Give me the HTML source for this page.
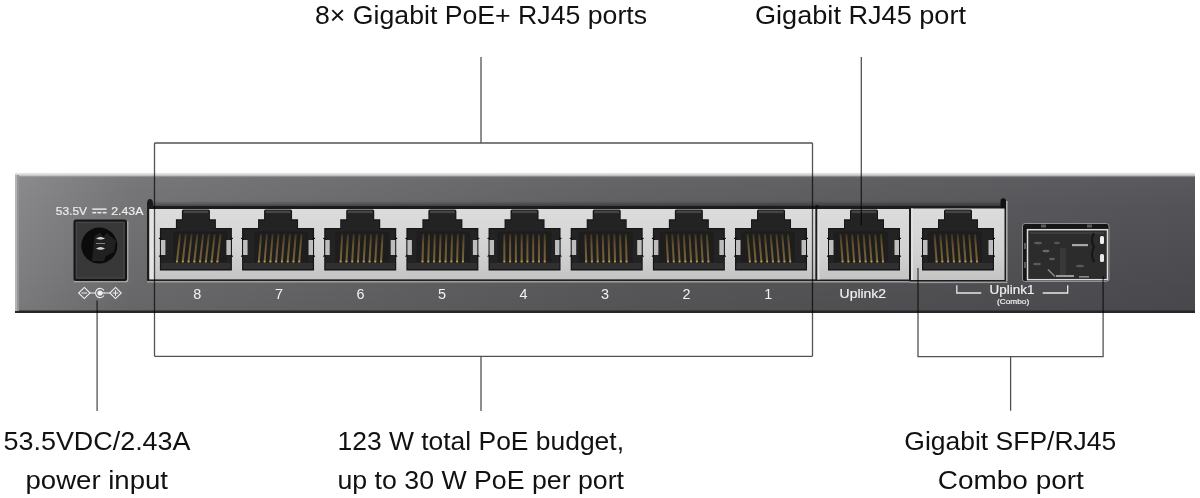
<!DOCTYPE html>
<html><head><meta charset="utf-8">
<style>
html,body{margin:0;padding:0;background:#fff;}
body{width:1200px;height:498px;overflow:hidden;position:relative;}
svg{position:absolute;left:0;top:0;display:block;will-change:transform;}
text{font-family:"Liberation Sans",sans-serif;}
</style></head><body>
<svg width="1200" height="498" viewBox="0 0 1200 498">
<defs>
  <linearGradient id="bodyH" x1="0" x2="1" y1="0" y2="0">
    <stop offset="0" stop-color="#838385"/>
    <stop offset="0.1" stop-color="#6e6e70"/>
    <stop offset="0.5" stop-color="#5b5b5e"/>
    <stop offset="1" stop-color="#4e4e52"/>
  </linearGradient>
  <linearGradient id="bodyV" x1="0" x2="0" y1="0" y2="1">
    <stop offset="0" stop-color="#fff" stop-opacity="0.07"/>
    <stop offset="0.25" stop-color="#fff" stop-opacity="0.03"/>
    <stop offset="0.7" stop-color="#000" stop-opacity="0.03"/>
    <stop offset="1" stop-color="#000" stop-opacity="0.08"/>
  </linearGradient>
  <linearGradient id="topHi" x1="0" x2="0" y1="0" y2="1">
    <stop offset="0" stop-color="#ececec"/>
    <stop offset="0.5" stop-color="#d6d6d6" stop-opacity="0.9"/>
    <stop offset="1" stop-color="#8a8a8a" stop-opacity="0"/>
  </linearGradient>
  <linearGradient id="shadowTop" x1="0" x2="0" y1="0" y2="1">
    <stop offset="0" stop-color="#000" stop-opacity="0"/>
    <stop offset="1" stop-color="#000" stop-opacity="0.45"/>
  </linearGradient>
  <linearGradient id="pinG" gradientUnits="userSpaceOnUse" x1="0" x2="0" y1="234" y2="262">
    <stop offset="0" stop-color="#3e3220"/>
    <stop offset="0.35" stop-color="#63512f"/>
    <stop offset="1" stop-color="#7a6538"/>
  </linearGradient>
  <linearGradient id="silver" x1="0" x2="0" y1="0" y2="1">
    <stop offset="0" stop-color="#dcdcdc"/>
    <stop offset="0.6" stop-color="#d2d2d2"/>
    <stop offset="1" stop-color="#c4c4c4"/>
  </linearGradient>
  </defs>
<rect width="1200" height="498" fill="#fff"/>
<!-- body -->
<path d="M15 174Q15 173 16 173H1195V313H19Q15 313 15 309Z" fill="url(#bodyH)"/>
<rect x="15" y="173" width="1180" height="140" fill="url(#bodyV)"/>
<rect x="15" y="172.8" width="1180" height="5" fill="url(#topHi)"/>
<rect x="15" y="310.5" width="1180" height="2.5" fill="#262626"/>
<rect x="15" y="175" width="2" height="136" fill="#b4b4b4"/>
<rect x="17" y="175" width="2" height="136" fill="#949494"/>

<!-- 8 port panel -->
<rect x="147" y="201" width="669" height="6" fill="url(#shadowTop)"/>
<path d="M147 204Q147 199 150 199Q153 199 153 204V207H147Z" fill="#1a1a1a"/>
<rect x="147" y="206" width="669" height="3" fill="#1c1c1c"/>
<rect x="147" y="206" width="2.5" height="76" fill="#1c1c1c"/>
<rect x="149.5" y="209" width="666" height="70.5" fill="url(#silver)"/>
<rect x="149.5" y="209" width="4.5" height="70.5" fill="#e4e4e4"/>
<rect x="147" y="279.5" width="669" height="1.5" fill="#222"/>
<rect x="147" y="281" width="669" height="1.6" fill="#9a9a9a"/>
<g transform="translate(195.90,0)"><path d="M-14 211Q-14 209.5 -12.5 209.5H12.5Q14 209.5 14 211V219.3H20V228H36V270.5H-36V228H-20V219.3H-14Z" fill="#151515"/><path d="M-13 212V220.5H-19V229.3H-34.8V262H34.8V229.3H19V220.5H13V212Z" fill="#232323"/><rect x="-12.5" y="210.5" width="25" height="2.6" fill="#454545"/><rect x="-22.72" y="231.5" width="54" height="30.5" fill="#1d1d1d"/><rect x="-34.8" y="262" width="69.6" height="7" fill="#303030"/><rect x="-34.8" y="262" width="69.6" height="1" fill="#222"/><g stroke="url(#pinG)" stroke-width="2" stroke-linecap="round"><line x1="-15.92" y1="235" x2="-18.90" y2="261.5"/><line x1="-10.15" y1="235" x2="-13.13" y2="261.5"/><line x1="-4.38" y1="235" x2="-7.36" y2="261.5"/><line x1="1.39" y1="235" x2="-1.59" y2="261.5"/><line x1="7.16" y1="235" x2="4.18" y2="261.5"/><line x1="12.93" y1="235" x2="9.95" y2="261.5"/><line x1="18.70" y1="235" x2="15.72" y2="261.5"/><line x1="24.47" y1="235" x2="21.49" y2="261.5"/></g><g fill="#b39858"><circle cx="-18.90" cy="261.5" r="1.1"/><circle cx="-13.13" cy="261.5" r="1.1"/><circle cx="-7.36" cy="261.5" r="1.1"/><circle cx="-1.59" cy="261.5" r="1.1"/><circle cx="4.18" cy="261.5" r="1.1"/><circle cx="9.95" cy="261.5" r="1.1"/><circle cx="15.72" cy="261.5" r="1.1"/><circle cx="21.49" cy="261.5" r="1.1"/></g><path d="M-37 238.5Q-35 238 -35 239.5V254Q-35 256 -37 256.5" fill="none" stroke="#0c0c0c" stroke-width="1.2"/><rect x="-35" y="240" width="4.5" height="15" fill="#bdbdbd"/><path d="M37 238.5Q35 238 35 239.5V254Q35 256 37 256.5" fill="none" stroke="#0c0c0c" stroke-width="1.2"/><rect x="30.5" y="240" width="4.5" height="15" fill="#bdbdbd"/></g><g transform="translate(278.06,0)"><path d="M-14 211Q-14 209.5 -12.5 209.5H12.5Q14 209.5 14 211V219.3H20V228H36V270.5H-36V228H-20V219.3H-14Z" fill="#151515"/><path d="M-13 212V220.5H-19V229.3H-34.8V262H34.8V229.3H19V220.5H13V212Z" fill="#232323"/><rect x="-12.5" y="210.5" width="25" height="2.6" fill="#454545"/><rect x="-23.79" y="231.5" width="54" height="30.5" fill="#1d1d1d"/><rect x="-34.8" y="262" width="69.6" height="7" fill="#303030"/><rect x="-34.8" y="262" width="69.6" height="1" fill="#222"/><g stroke="url(#pinG)" stroke-width="2" stroke-linecap="round"><line x1="-16.99" y1="235" x2="-19.21" y2="261.5"/><line x1="-11.22" y1="235" x2="-13.44" y2="261.5"/><line x1="-5.45" y1="235" x2="-7.67" y2="261.5"/><line x1="0.32" y1="235" x2="-1.90" y2="261.5"/><line x1="6.09" y1="235" x2="3.87" y2="261.5"/><line x1="11.86" y1="235" x2="9.64" y2="261.5"/><line x1="17.63" y1="235" x2="15.41" y2="261.5"/><line x1="23.40" y1="235" x2="21.18" y2="261.5"/></g><g fill="#b39858"><circle cx="-19.21" cy="261.5" r="1.1"/><circle cx="-13.44" cy="261.5" r="1.1"/><circle cx="-7.67" cy="261.5" r="1.1"/><circle cx="-1.90" cy="261.5" r="1.1"/><circle cx="3.87" cy="261.5" r="1.1"/><circle cx="9.64" cy="261.5" r="1.1"/><circle cx="15.41" cy="261.5" r="1.1"/><circle cx="21.18" cy="261.5" r="1.1"/></g><path d="M-37 238.5Q-35 238 -35 239.5V254Q-35 256 -37 256.5" fill="none" stroke="#0c0c0c" stroke-width="1.2"/><rect x="-35" y="240" width="4.5" height="15" fill="#bdbdbd"/><path d="M37 238.5Q35 238 35 239.5V254Q35 256 37 256.5" fill="none" stroke="#0c0c0c" stroke-width="1.2"/><rect x="30.5" y="240" width="4.5" height="15" fill="#bdbdbd"/></g><g transform="translate(360.22,0)"><path d="M-14 211Q-14 209.5 -12.5 209.5H12.5Q14 209.5 14 211V219.3H20V228H36V270.5H-36V228H-20V219.3H-14Z" fill="#151515"/><path d="M-13 212V220.5H-19V229.3H-34.8V262H34.8V229.3H19V220.5H13V212Z" fill="#232323"/><rect x="-12.5" y="210.5" width="25" height="2.6" fill="#454545"/><rect x="-24.86" y="231.5" width="54" height="30.5" fill="#1d1d1d"/><rect x="-34.8" y="262" width="69.6" height="7" fill="#303030"/><rect x="-34.8" y="262" width="69.6" height="1" fill="#222"/><g stroke="url(#pinG)" stroke-width="2" stroke-linecap="round"><line x1="-18.06" y1="235" x2="-19.54" y2="261.5"/><line x1="-12.29" y1="235" x2="-13.77" y2="261.5"/><line x1="-6.52" y1="235" x2="-8.00" y2="261.5"/><line x1="-0.75" y1="235" x2="-2.23" y2="261.5"/><line x1="5.02" y1="235" x2="3.54" y2="261.5"/><line x1="10.79" y1="235" x2="9.31" y2="261.5"/><line x1="16.56" y1="235" x2="15.08" y2="261.5"/><line x1="22.33" y1="235" x2="20.85" y2="261.5"/></g><g fill="#b39858"><circle cx="-19.54" cy="261.5" r="1.1"/><circle cx="-13.77" cy="261.5" r="1.1"/><circle cx="-8.00" cy="261.5" r="1.1"/><circle cx="-2.23" cy="261.5" r="1.1"/><circle cx="3.54" cy="261.5" r="1.1"/><circle cx="9.31" cy="261.5" r="1.1"/><circle cx="15.08" cy="261.5" r="1.1"/><circle cx="20.85" cy="261.5" r="1.1"/></g><path d="M-37 238.5Q-35 238 -35 239.5V254Q-35 256 -37 256.5" fill="none" stroke="#0c0c0c" stroke-width="1.2"/><rect x="-35" y="240" width="4.5" height="15" fill="#bdbdbd"/><path d="M37 238.5Q35 238 35 239.5V254Q35 256 37 256.5" fill="none" stroke="#0c0c0c" stroke-width="1.2"/><rect x="30.5" y="240" width="4.5" height="15" fill="#bdbdbd"/></g><g transform="translate(442.38,0)"><path d="M-14 211Q-14 209.5 -12.5 209.5H12.5Q14 209.5 14 211V219.3H20V228H36V270.5H-36V228H-20V219.3H-14Z" fill="#151515"/><path d="M-13 212V220.5H-19V229.3H-34.8V262H34.8V229.3H19V220.5H13V212Z" fill="#232323"/><rect x="-12.5" y="210.5" width="25" height="2.6" fill="#454545"/><rect x="-25.93" y="231.5" width="54" height="30.5" fill="#1d1d1d"/><rect x="-34.8" y="262" width="69.6" height="7" fill="#303030"/><rect x="-34.8" y="262" width="69.6" height="1" fill="#222"/><g stroke="url(#pinG)" stroke-width="2" stroke-linecap="round"><line x1="-19.13" y1="235" x2="-19.87" y2="261.5"/><line x1="-13.36" y1="235" x2="-14.10" y2="261.5"/><line x1="-7.59" y1="235" x2="-8.33" y2="261.5"/><line x1="-1.82" y1="235" x2="-2.56" y2="261.5"/><line x1="3.95" y1="235" x2="3.21" y2="261.5"/><line x1="9.72" y1="235" x2="8.98" y2="261.5"/><line x1="15.49" y1="235" x2="14.75" y2="261.5"/><line x1="21.26" y1="235" x2="20.52" y2="261.5"/></g><g fill="#b39858"><circle cx="-19.87" cy="261.5" r="1.1"/><circle cx="-14.10" cy="261.5" r="1.1"/><circle cx="-8.33" cy="261.5" r="1.1"/><circle cx="-2.56" cy="261.5" r="1.1"/><circle cx="3.21" cy="261.5" r="1.1"/><circle cx="8.98" cy="261.5" r="1.1"/><circle cx="14.75" cy="261.5" r="1.1"/><circle cx="20.52" cy="261.5" r="1.1"/></g><path d="M-37 238.5Q-35 238 -35 239.5V254Q-35 256 -37 256.5" fill="none" stroke="#0c0c0c" stroke-width="1.2"/><rect x="-35" y="240" width="4.5" height="15" fill="#bdbdbd"/><path d="M37 238.5Q35 238 35 239.5V254Q35 256 37 256.5" fill="none" stroke="#0c0c0c" stroke-width="1.2"/><rect x="30.5" y="240" width="4.5" height="15" fill="#bdbdbd"/></g><g transform="translate(524.54,0)"><path d="M-14 211Q-14 209.5 -12.5 209.5H12.5Q14 209.5 14 211V219.3H20V228H36V270.5H-36V228H-20V219.3H-14Z" fill="#151515"/><path d="M-13 212V220.5H-19V229.3H-34.8V262H34.8V229.3H19V220.5H13V212Z" fill="#232323"/><rect x="-12.5" y="210.5" width="25" height="2.6" fill="#454545"/><rect x="-26.99" y="231.5" width="54" height="30.5" fill="#1d1d1d"/><rect x="-34.8" y="262" width="69.6" height="7" fill="#303030"/><rect x="-34.8" y="262" width="69.6" height="1" fill="#222"/><g stroke="url(#pinG)" stroke-width="2" stroke-linecap="round"><line x1="-20.19" y1="235" x2="-20.20" y2="261.5"/><line x1="-14.42" y1="235" x2="-14.43" y2="261.5"/><line x1="-8.65" y1="235" x2="-8.66" y2="261.5"/><line x1="-2.88" y1="235" x2="-2.89" y2="261.5"/><line x1="2.89" y1="235" x2="2.88" y2="261.5"/><line x1="8.66" y1="235" x2="8.65" y2="261.5"/><line x1="14.43" y1="235" x2="14.42" y2="261.5"/><line x1="20.20" y1="235" x2="20.19" y2="261.5"/></g><g fill="#b39858"><circle cx="-20.20" cy="261.5" r="1.1"/><circle cx="-14.43" cy="261.5" r="1.1"/><circle cx="-8.66" cy="261.5" r="1.1"/><circle cx="-2.89" cy="261.5" r="1.1"/><circle cx="2.88" cy="261.5" r="1.1"/><circle cx="8.65" cy="261.5" r="1.1"/><circle cx="14.42" cy="261.5" r="1.1"/><circle cx="20.19" cy="261.5" r="1.1"/></g><path d="M-37 238.5Q-35 238 -35 239.5V254Q-35 256 -37 256.5" fill="none" stroke="#0c0c0c" stroke-width="1.2"/><rect x="-35" y="240" width="4.5" height="15" fill="#bdbdbd"/><path d="M37 238.5Q35 238 35 239.5V254Q35 256 37 256.5" fill="none" stroke="#0c0c0c" stroke-width="1.2"/><rect x="30.5" y="240" width="4.5" height="15" fill="#bdbdbd"/></g><g transform="translate(606.70,0)"><path d="M-14 211Q-14 209.5 -12.5 209.5H12.5Q14 209.5 14 211V219.3H20V228H36V270.5H-36V228H-20V219.3H-14Z" fill="#151515"/><path d="M-13 212V220.5H-19V229.3H-34.8V262H34.8V229.3H19V220.5H13V212Z" fill="#232323"/><rect x="-12.5" y="210.5" width="25" height="2.6" fill="#454545"/><rect x="-28.06" y="231.5" width="54" height="30.5" fill="#1d1d1d"/><rect x="-34.8" y="262" width="69.6" height="7" fill="#303030"/><rect x="-34.8" y="262" width="69.6" height="1" fill="#222"/><g stroke="url(#pinG)" stroke-width="2" stroke-linecap="round"><line x1="-21.26" y1="235" x2="-20.53" y2="261.5"/><line x1="-15.49" y1="235" x2="-14.76" y2="261.5"/><line x1="-9.72" y1="235" x2="-8.99" y2="261.5"/><line x1="-3.95" y1="235" x2="-3.22" y2="261.5"/><line x1="1.82" y1="235" x2="2.55" y2="261.5"/><line x1="7.59" y1="235" x2="8.32" y2="261.5"/><line x1="13.36" y1="235" x2="14.09" y2="261.5"/><line x1="19.13" y1="235" x2="19.86" y2="261.5"/></g><g fill="#b39858"><circle cx="-20.53" cy="261.5" r="1.1"/><circle cx="-14.76" cy="261.5" r="1.1"/><circle cx="-8.99" cy="261.5" r="1.1"/><circle cx="-3.22" cy="261.5" r="1.1"/><circle cx="2.55" cy="261.5" r="1.1"/><circle cx="8.32" cy="261.5" r="1.1"/><circle cx="14.09" cy="261.5" r="1.1"/><circle cx="19.86" cy="261.5" r="1.1"/></g><path d="M-37 238.5Q-35 238 -35 239.5V254Q-35 256 -37 256.5" fill="none" stroke="#0c0c0c" stroke-width="1.2"/><rect x="-35" y="240" width="4.5" height="15" fill="#bdbdbd"/><path d="M37 238.5Q35 238 35 239.5V254Q35 256 37 256.5" fill="none" stroke="#0c0c0c" stroke-width="1.2"/><rect x="30.5" y="240" width="4.5" height="15" fill="#bdbdbd"/></g><g transform="translate(688.86,0)"><path d="M-14 211Q-14 209.5 -12.5 209.5H12.5Q14 209.5 14 211V219.3H20V228H36V270.5H-36V228H-20V219.3H-14Z" fill="#151515"/><path d="M-13 212V220.5H-19V229.3H-34.8V262H34.8V229.3H19V220.5H13V212Z" fill="#232323"/><rect x="-12.5" y="210.5" width="25" height="2.6" fill="#454545"/><rect x="-29.13" y="231.5" width="54" height="30.5" fill="#1d1d1d"/><rect x="-34.8" y="262" width="69.6" height="7" fill="#303030"/><rect x="-34.8" y="262" width="69.6" height="1" fill="#222"/><g stroke="url(#pinG)" stroke-width="2" stroke-linecap="round"><line x1="-22.33" y1="235" x2="-20.86" y2="261.5"/><line x1="-16.56" y1="235" x2="-15.09" y2="261.5"/><line x1="-10.79" y1="235" x2="-9.32" y2="261.5"/><line x1="-5.02" y1="235" x2="-3.55" y2="261.5"/><line x1="0.75" y1="235" x2="2.22" y2="261.5"/><line x1="6.52" y1="235" x2="7.99" y2="261.5"/><line x1="12.29" y1="235" x2="13.76" y2="261.5"/><line x1="18.06" y1="235" x2="19.53" y2="261.5"/></g><g fill="#b39858"><circle cx="-20.86" cy="261.5" r="1.1"/><circle cx="-15.09" cy="261.5" r="1.1"/><circle cx="-9.32" cy="261.5" r="1.1"/><circle cx="-3.55" cy="261.5" r="1.1"/><circle cx="2.22" cy="261.5" r="1.1"/><circle cx="7.99" cy="261.5" r="1.1"/><circle cx="13.76" cy="261.5" r="1.1"/><circle cx="19.53" cy="261.5" r="1.1"/></g><path d="M-37 238.5Q-35 238 -35 239.5V254Q-35 256 -37 256.5" fill="none" stroke="#0c0c0c" stroke-width="1.2"/><rect x="-35" y="240" width="4.5" height="15" fill="#bdbdbd"/><path d="M37 238.5Q35 238 35 239.5V254Q35 256 37 256.5" fill="none" stroke="#0c0c0c" stroke-width="1.2"/><rect x="30.5" y="240" width="4.5" height="15" fill="#bdbdbd"/></g><g transform="translate(771.02,0)"><path d="M-14 211Q-14 209.5 -12.5 209.5H12.5Q14 209.5 14 211V219.3H20V228H36V270.5H-36V228H-20V219.3H-14Z" fill="#151515"/><path d="M-13 212V220.5H-19V229.3H-34.8V262H34.8V229.3H19V220.5H13V212Z" fill="#232323"/><rect x="-12.5" y="210.5" width="25" height="2.6" fill="#454545"/><rect x="-30.20" y="231.5" width="54" height="30.5" fill="#1d1d1d"/><rect x="-34.8" y="262" width="69.6" height="7" fill="#303030"/><rect x="-34.8" y="262" width="69.6" height="1" fill="#222"/><g stroke="url(#pinG)" stroke-width="2" stroke-linecap="round"><line x1="-23.40" y1="235" x2="-21.18" y2="261.5"/><line x1="-17.63" y1="235" x2="-15.41" y2="261.5"/><line x1="-11.86" y1="235" x2="-9.64" y2="261.5"/><line x1="-6.09" y1="235" x2="-3.87" y2="261.5"/><line x1="-0.32" y1="235" x2="1.90" y2="261.5"/><line x1="5.45" y1="235" x2="7.67" y2="261.5"/><line x1="11.22" y1="235" x2="13.44" y2="261.5"/><line x1="16.99" y1="235" x2="19.21" y2="261.5"/></g><g fill="#b39858"><circle cx="-21.18" cy="261.5" r="1.1"/><circle cx="-15.41" cy="261.5" r="1.1"/><circle cx="-9.64" cy="261.5" r="1.1"/><circle cx="-3.87" cy="261.5" r="1.1"/><circle cx="1.90" cy="261.5" r="1.1"/><circle cx="7.67" cy="261.5" r="1.1"/><circle cx="13.44" cy="261.5" r="1.1"/><circle cx="19.21" cy="261.5" r="1.1"/></g><path d="M-37 238.5Q-35 238 -35 239.5V254Q-35 256 -37 256.5" fill="none" stroke="#0c0c0c" stroke-width="1.2"/><rect x="-35" y="240" width="4.5" height="15" fill="#bdbdbd"/><path d="M37 238.5Q35 238 35 239.5V254Q35 256 37 256.5" fill="none" stroke="#0c0c0c" stroke-width="1.2"/><rect x="30.5" y="240" width="4.5" height="15" fill="#bdbdbd"/></g>

<!-- uplink2 panel -->
<rect x="816" y="201" width="95" height="6" fill="url(#shadowTop)"/>
<rect x="815.5" y="206" width="95" height="75" fill="#1c1c1c"/>
<circle cx="817" cy="207" r="2" fill="#111"/>
<rect x="817.5" y="209" width="91.5" height="70.5" fill="url(#silver)"/>
<rect x="817.5" y="209" width="2" height="70.5" fill="#e0e0e0"/>
<rect x="816" y="281" width="94" height="1.6" fill="#9a9a9a"/>
<g transform="translate(864.00,0)"><path d="M-14 211Q-14 209.5 -12.5 209.5H12.5Q14 209.5 14 211V219.3H20V228H36V270.5H-36V228H-20V219.3H-14Z" fill="#151515"/><path d="M-13 212V220.5H-19V229.3H-34.8V262H34.8V229.3H19V220.5H13V212Z" fill="#232323"/><rect x="-12.5" y="210.5" width="25" height="2.6" fill="#454545"/><rect x="-30.20" y="231.5" width="54" height="30.5" fill="#1d1d1d"/><rect x="-34.8" y="262" width="69.6" height="7" fill="#303030"/><rect x="-34.8" y="262" width="69.6" height="1" fill="#222"/><g stroke="url(#pinG)" stroke-width="2" stroke-linecap="round"><line x1="-23.40" y1="235" x2="-21.40" y2="261.5"/><line x1="-17.63" y1="235" x2="-15.63" y2="261.5"/><line x1="-11.86" y1="235" x2="-9.86" y2="261.5"/><line x1="-6.09" y1="235" x2="-4.09" y2="261.5"/><line x1="-0.32" y1="235" x2="1.68" y2="261.5"/><line x1="5.45" y1="235" x2="7.45" y2="261.5"/><line x1="11.22" y1="235" x2="13.22" y2="261.5"/><line x1="16.99" y1="235" x2="18.99" y2="261.5"/></g><g fill="#b39858"><circle cx="-21.40" cy="261.5" r="1.1"/><circle cx="-15.63" cy="261.5" r="1.1"/><circle cx="-9.86" cy="261.5" r="1.1"/><circle cx="-4.09" cy="261.5" r="1.1"/><circle cx="1.68" cy="261.5" r="1.1"/><circle cx="7.45" cy="261.5" r="1.1"/><circle cx="13.22" cy="261.5" r="1.1"/><circle cx="18.99" cy="261.5" r="1.1"/></g><path d="M-37 238.5Q-35 238 -35 239.5V254Q-35 256 -37 256.5" fill="none" stroke="#0c0c0c" stroke-width="1.2"/><rect x="-35" y="240" width="4.5" height="15" fill="#bdbdbd"/><path d="M37 238.5Q35 238 35 239.5V254Q35 256 37 256.5" fill="none" stroke="#0c0c0c" stroke-width="1.2"/><rect x="30.5" y="240" width="4.5" height="15" fill="#bdbdbd"/></g>
<!-- uplink1 panel -->
<rect x="911" y="201" width="90" height="6" fill="url(#shadowTop)"/>
<rect x="909.5" y="206" width="96.5" height="76" fill="#1c1c1c"/>
<path d="M1000.5 207V201.5Q1000.5 198.3 1003.3 198.3Q1006 198.3 1006 201.5V210H1000.5Z" fill="#111"/>
<rect x="1006" y="201" width="1.6" height="80" fill="#a8a8a8"/>
<rect x="911" y="208.5" width="93.5" height="71.5" fill="url(#silver)"/>
<rect x="911" y="208.5" width="2" height="71.5" fill="#e0e0e0"/>
<rect x="909.5" y="281.5" width="98" height="1.6" fill="#9a9a9a"/>
<g transform="translate(958.00,0)"><path d="M-14 211Q-14 209.5 -12.5 209.5H12.5Q14 209.5 14 211V219.3H20V228H36V270.5H-36V228H-20V219.3H-14Z" fill="#151515"/><path d="M-13 212V220.5H-19V229.3H-34.8V262H34.8V229.3H19V220.5H13V212Z" fill="#232323"/><rect x="-12.5" y="210.5" width="25" height="2.6" fill="#454545"/><rect x="-30.20" y="231.5" width="54" height="30.5" fill="#1d1d1d"/><rect x="-34.8" y="262" width="69.6" height="7" fill="#303030"/><rect x="-34.8" y="262" width="69.6" height="1" fill="#222"/><g stroke="url(#pinG)" stroke-width="2" stroke-linecap="round"><line x1="-23.40" y1="235" x2="-21.40" y2="261.5"/><line x1="-17.63" y1="235" x2="-15.63" y2="261.5"/><line x1="-11.86" y1="235" x2="-9.86" y2="261.5"/><line x1="-6.09" y1="235" x2="-4.09" y2="261.5"/><line x1="-0.32" y1="235" x2="1.68" y2="261.5"/><line x1="5.45" y1="235" x2="7.45" y2="261.5"/><line x1="11.22" y1="235" x2="13.22" y2="261.5"/><line x1="16.99" y1="235" x2="18.99" y2="261.5"/></g><g fill="#b39858"><circle cx="-21.40" cy="261.5" r="1.1"/><circle cx="-15.63" cy="261.5" r="1.1"/><circle cx="-9.86" cy="261.5" r="1.1"/><circle cx="-4.09" cy="261.5" r="1.1"/><circle cx="1.68" cy="261.5" r="1.1"/><circle cx="7.45" cy="261.5" r="1.1"/><circle cx="13.22" cy="261.5" r="1.1"/><circle cx="18.99" cy="261.5" r="1.1"/></g><path d="M-37 238.5Q-35 238 -35 239.5V254Q-35 256 -37 256.5" fill="none" stroke="#0c0c0c" stroke-width="1.2"/><rect x="-35" y="240" width="4.5" height="15" fill="#bdbdbd"/><path d="M37 238.5Q35 238 35 239.5V254Q35 256 37 256.5" fill="none" stroke="#0c0c0c" stroke-width="1.2"/><rect x="30.5" y="240" width="4.5" height="15" fill="#bdbdbd"/></g>

<!-- SFP -->
<rect x="1022.5" y="223.5" width="86.5" height="58" rx="2.5" fill="#161616" stroke="#909090" stroke-width="1"/>
<g fill="#5a5a5a">
  <rect x="1041" y="224.5" width="5" height="3"/><rect x="1087" y="224.5" width="5" height="3"/>
  <rect x="1024" y="243" width="2" height="6"/><rect x="1024" y="262" width="2" height="6"/>
</g>
<rect x="1027.5" y="229.7" width="80" height="50" fill="#2c2c2c" stroke="#dcdcdc" stroke-width="1.5"/>
<g fill="#4a4a4a">
  <rect x="1030" y="232" width="74" height="2" fill="#3c3c3c"/>
  <ellipse cx="1038" cy="243" rx="4" ry="1.3" fill="#5c5c5c"/>
  <ellipse cx="1046" cy="251" rx="3.5" ry="1.3" fill="#6a6a6a"/>
  <ellipse cx="1057" cy="243" rx="3" ry="1.2" fill="#555"/>
  <rect x="1072" y="244" width="16" height="2.2" fill="#a8a8a8"/>
  <rect x="1060" y="248" width="6" height="28" fill="#383838"/>
  <ellipse cx="1037" cy="264" rx="4" ry="1.3" fill="#5a5a5a"/>
  <ellipse cx="1052" cy="259" rx="3" ry="1.2" fill="#606060"/>
  <ellipse cx="1080" cy="266" rx="4" ry="1.3" fill="#5a5a5a"/>
  <path d="M1048 269.5L1055 276.5" stroke="#8a8a8a" stroke-width="1.5" fill="none"/>
  <rect x="1056" y="275" width="18" height="2" fill="#9a9a9a"/>
  <rect x="1079" y="276" width="10" height="1.6" fill="#8a8a8a"/>
  <path d="M1094 233Q1090 240 1094 247Q1090 254 1094 262" stroke="#151515" stroke-width="2" fill="none"/>
</g>
<rect x="1100" y="236" width="4" height="8" rx="1.5" fill="#eeeeee"/>
<rect x="1100" y="254" width="4" height="8" rx="1.5" fill="#e8e8e8"/>

<!-- power jack -->
<rect x="73.5" y="219.5" width="53.5" height="61.5" rx="2.5" fill="#151515"/>
<rect x="75.5" y="221.5" width="49.5" height="57.5" fill="#383838"/>
<rect x="76.5" y="222.5" width="47.5" height="55.5" fill="none" stroke="#474747" stroke-width="1"/>
<path d="M74 281.8H125.5Q127.8 281.8 127.8 279.5V221" fill="none" stroke="#c0c0c0" stroke-width="1.1" opacity="0.85"/>
<circle cx="99.3" cy="245.6" r="18" fill="#0b0b0b"/>
<path d="M92 261L94.5 236L100 232.5L103 237L107 233L116 241L114 252L106 256L104 261Z" fill="#202020"/>
<path d="M96 238.5Q100.5 235.5 105 238.5Q100.5 240.5 96 238.5Z" fill="#d8d8d8"/>
<path d="M96 243.5H105" stroke="#9a9a9a" stroke-width="0.8"/>
<path d="M96 248.5Q100.5 245.5 105 248.5Q100.5 251 96 248.5Z" fill="#d0d0d0"/>

<g fill="#ececec" stroke="#ececec" stroke-width="0.2">
  <text x="55.8" y="214.8" font-size="11.3" textLength="31.3" lengthAdjust="spacingAndGlyphs">53.5V</text>
  <text x="111.2" y="214.8" font-size="11.3" textLength="32.2" lengthAdjust="spacingAndGlyphs">2.43A</text>
  <rect x="92.5" y="208.5" width="14" height="1.3"/>
  <rect x="92.5" y="212" width="3.6" height="1.3"/><rect x="97.7" y="212" width="3.6" height="1.3"/><rect x="102.9" y="212" width="3.6" height="1.3"/>
</g>
<g fill="none" stroke="#efefef" stroke-width="1.1">
  <path d="M84.3 287.4L90 293L84.3 298.6L78.6 293Z"/>
  <path d="M115.5 287.4L121.2 293L115.5 298.6L109.8 293Z"/>
  <path d="M90 293H95M104.5 293H109.8"/>
  <path d="M104 290.5A4.6 4.6 0 1 0 104 295.5"/>
  <path d="M81.5 293H87.1M112.7 293H118.3M115.5 290.2V295.8"/>
</g>
<circle cx="100" cy="293" r="2.6" fill="#efefef"/>
<rect x="100" y="292.4" width="5" height="1.2" fill="#efefef"/>

<g fill="#f2f2f2" font-size="14.4"><text x="197.3" y="298.5" text-anchor="middle">8</text><text x="278.9" y="298.5" text-anchor="middle">7</text><text x="360.4" y="298.5" text-anchor="middle">6</text><text x="441.9" y="298.5" text-anchor="middle">5</text><text x="523.5" y="298.5" text-anchor="middle">4</text><text x="605.0" y="298.5" text-anchor="middle">3</text><text x="686.6" y="298.5" text-anchor="middle">2</text><text x="768.2" y="298.5" text-anchor="middle">1</text></g>
<g fill="#f0f0f0" stroke="#f0f0f0" stroke-width="0.2" font-size="13.6">
  <text x="839.6" y="297.8" textLength="46.5" lengthAdjust="spacingAndGlyphs">Uplink2</text>
  <text x="989.6" y="293.6" textLength="44.8" lengthAdjust="spacingAndGlyphs">Uplink1</text>
  <text x="996.9" y="303.6" font-size="8" textLength="32.3" lengthAdjust="spacingAndGlyphs">(Combo)</text>
</g>
<path d="M956.8 285.3V293H981.2M1042.7 293H1067.7V285.3" fill="none" stroke="#e6e6e6" stroke-width="1.3"/>

<!-- annotation lines -->
<g stroke="#000" stroke-opacity="0.68" stroke-width="1.3" fill="none">
  <path d="M481 57V143M154.5 143H812.5M154.5 143V356.3M812.5 143V356.3M154.5 356.3H812.5M481 356.3V411"/>
  <path d="M861.3 57V225"/>
  <path d="M97.1 300.6V411"/>
  <path d="M918 268V356.6H1103.1V276M1010.6 356.6V410.7"/>
</g>

<!-- captions -->
<g fill="#111" font-size="26">
  <text x="315" y="24" textLength="332" lengthAdjust="spacingAndGlyphs">8× Gigabit PoE+ RJ45 ports</text>
  <text x="755" y="24" textLength="211" lengthAdjust="spacingAndGlyphs">Gigabit RJ45 port</text>
  <text x="3.5" y="450" textLength="187" lengthAdjust="spacingAndGlyphs">53.5VDC/2.43A</text>
  <text x="25.5" y="489" textLength="142.5" lengthAdjust="spacingAndGlyphs">power input</text>
  <text x="337.5" y="450" textLength="286.5" lengthAdjust="spacingAndGlyphs">123 W total PoE budget,</text>
  <text x="337.5" y="489" textLength="286.5" lengthAdjust="spacingAndGlyphs">up to 30 W PoE per port</text>
  <text x="904.3" y="449.5" textLength="212" lengthAdjust="spacingAndGlyphs">Gigabit SFP/RJ45</text>
  <text x="937.8" y="488.5" textLength="146" lengthAdjust="spacingAndGlyphs">Combo port</text>
</g>
</svg>
</body></html>
